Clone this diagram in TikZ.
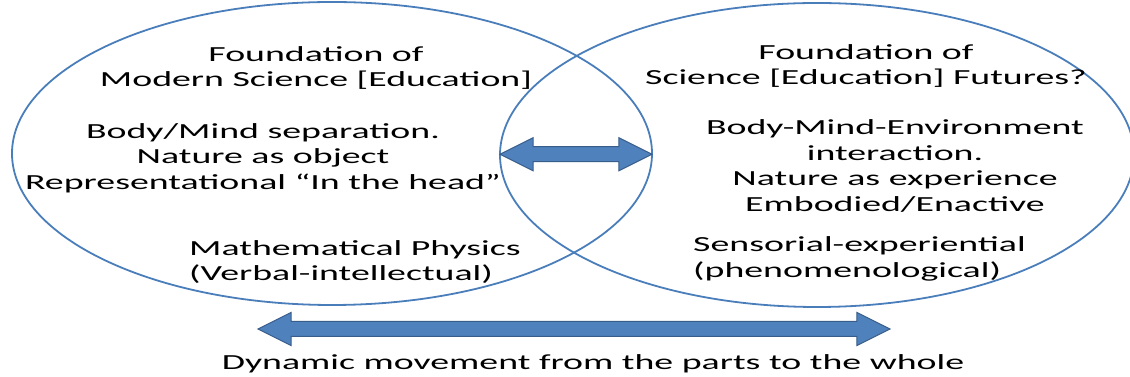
\documentclass[tikz,border=0pt]{standalone}
\usepackage{fontspec}
\setmainfont{Carlito}[FakeStretch=1.76]
\usepackage{tikz}
\usetikzlibrary{shapes.geometric,shapes.arrows,positioning,calc}
\definecolor{ovline}{RGB}{74,126,187}
\definecolor{arfill}{RGB}{79,129,189}
\definecolor{arline}{RGB}{56,93,138}
\tikzstyle{field} = [ellipse, draw=ovline, line width=1.8pt, inner sep=0pt]
\tikzstyle{bigarrow} = [double arrow, fill=arfill, draw=arline, line width=1pt,
  inner xsep=0pt, inner ysep=7pt, double arrow head extend=9pt, double arrow tip angle=53]
\tikzstyle{txt} = [font=\fontsize{21.5}{25.5}\selectfont, align=center, inner sep=0pt]

\begin{document}
\begin{tikzpicture}[x=1pt, y=1pt]
\useasboundingbox (0,0) rectangle (1130,377);
% the two overlapping fields
\node[field, minimum width=640, minimum height=303] (modern) at (332,223.5) {};
\node[field, minimum width=634, minimum height=304] (futures) at (817,222) {};

% left field
\node[txt] (oldtitle) at (316,309) {Foundation of\\Modern Science [Education]};
\node[txt] (oldview) at (263,219) {Body/Mind separation.\\Nature as object\\Representational “In the head”};
\node[txt, align=left, anchor=west] (oldmode) at (189,115) {Mathematical Physics\\(Verbal-intellectual)};

% right field
\node[txt] (newtitle) at (866,311) {Foundation of\\Science [Education] Futures?};
\node[txt] (newview) at (895,211) {Body-Mind-Environment\\interaction.\\Nature as experience\\Embodied/Enactive};
\node[txt, align=left, anchor=west] (newmode) at (693,118) {Sensorial-experiential\\(phenomenological)};

% arrows
\node[bigarrow, minimum height=152] (link) at ($(futures.west)!0.5!(modern.east)$) {};
\node[bigarrow, minimum height=632] (whole) at (574,48) {};
\node[txt, anchor=base] (caption) at (593,7) {Dynamic movement from the parts to the whole};
\end{tikzpicture}
\end{document}
